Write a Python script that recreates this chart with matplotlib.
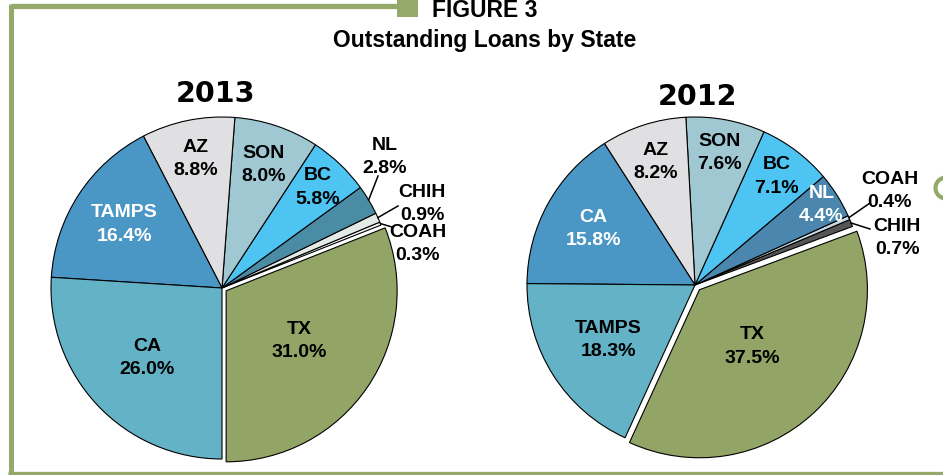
import numpy as np
import matplotlib
matplotlib.use('Agg')
import matplotlib.pyplot as plt
from matplotlib.patches import Circle

W, H = 943, 475

# shares of outstanding loans, listed counter-clockwise starting at TX
states_2013 = ['TX', 'COAH', 'CHIH', 'NL', 'BC', 'SON', 'AZ', 'TAMPS', 'CA']
share_2013 = [31.0, 0.3, 0.9, 2.8, 5.8, 8.0, 8.8, 16.4, 26.0]

states_2012 = ['TX', 'CHIH', 'COAH', 'NL', 'BC', 'SON', 'AZ', 'CA', 'TAMPS']
share_2012 = [37.5, 0.7, 0.4, 4.4, 7.1, 7.6, 8.2, 15.8, 18.3]

colors_2013 = ['#93A566', '#F6F7F6', '#E4EBE6', '#4B8CA5', '#4DC4F2',
               '#A0C8D2', '#E0E0E2', '#4A96C4', '#63B2C6']
colors_2012 = ['#93A566', '#555555', '#C8DCE8', '#4A86AE', '#4DC4F2',
               '#A0C8D2', '#E0E0E2', '#4A96C4', '#63B2C6']

GREEN = '#95A96A'
FONT = 'Liberation Sans'
LSIZE = 14

fig = plt.figure(figsize=(W / 100, H / 100), dpi=100)
ax = fig.add_axes([0, 0, 1, 1])


def yy(y):
    # image row -> data y
    return H - y


def draw_pie(states, shares, colors, center, radius, start, explode_tx,
             inside, outside):
    cx, cy = center
    # explode is in data units (pixels here)
    explode = [explode_tx] + [0] * (len(shares) - 1)
    wedges, _ = ax.pie(shares, colors=colors, startangle=start, counterclock=True,
                       explode=explode, radius=radius, center=(cx, yy(cy)),
                       wedgeprops=dict(edgecolor='black', linewidth=0.8))
    for w, st, val in zip(wedges, states, shares):
        mid = np.deg2rad((w.theta1 + w.theta2) / 2)
        wx, wy = w.center
        txt = '%s\n%.1f%%' % (st, val)
        if st in inside:
            frac, col = inside[st]
            ax.text(wx + frac * radius * np.cos(mid), wy + frac * radius * np.sin(mid),
                    txt, ha='center', va='center', color=col, fontsize=LSIZE,
                    fontweight='bold', family=FONT, linespacing=1.5)
        else:
            tx, ty, lx, ly = outside[st]
            ex = wx + radius * np.cos(mid)
            ey = wy + radius * np.sin(mid)
            ax.plot([ex, lx], [ey, yy(ly)], color='black', lw=1.1)
            ax.text(tx, yy(ty), txt, ha='center', va='center', color='black',
                    fontsize=LSIZE, fontweight='bold', family=FONT, linespacing=1.4)


draw_pie(states_2013, share_2013, colors_2013, (222, 288), 171, 270, 5,
         {'TX': (0.52, 'black'), 'CA': (0.6, 'black'), 'TAMPS': (0.68, 'white'),
          'AZ': (0.77, 'black'), 'SON': (0.76, 'black'), 'BC': (0.81, 'black')},
         {'NL': (385, 157, 378, 176), 'CHIH': (422, 204, 398, 206),
          'COAH': (418, 244, 392, 227)})

draw_pie(states_2012, share_2012, colors_2012, (695, 285), 168, 245.4, 6.5,
         {'TX': (0.46, 'black'), 'TAMPS': (0.61, 'black'), 'CA': (0.69, 'white'),
          'AZ': (0.77, 'black'), 'SON': (0.80, 'black'), 'BC': (0.81, 'black'),
          'NL': (0.89, 'white')},
         {'COAH': (890, 191, 870, 203), 'CHIH': (897, 238, 870, 229)})

# year headings
ax.text(215, yy(102), '2013', ha='center', va='baseline', fontsize=20.5,
        fontweight='bold', family='DejaVu Sans')
ax.text(698, yy(105), '2012', ha='center', va='baseline', fontsize=20.5,
        fontweight='bold', family='DejaVu Sans')

# frame and titles
ax.plot([10.5, 397], [yy(6), yy(6)], color=GREEN, lw=3.8, solid_capstyle='butt')
ax.plot([10.5, 10.5], [yy(4), yy(480)], color=GREEN, lw=3.6, solid_capstyle='butt')
ax.plot([8, W + 5], [yy(473.5), yy(473.5)], color=GREEN, lw=3.8, solid_capstyle='butt')
ax.fill([397, 418, 418, 397], [yy(0), yy(0), yy(17), yy(17)], color=GREEN, lw=0)
ax.add_patch(Circle((946, yy(188)), 10.5, facecolor='none', edgecolor=GREEN, lw=3))
ax.text(432, yy(17), 'FIGURE 3', ha='left', va='baseline', fontsize=16.5,
        fontweight='bold', family=FONT)
ax.text(485, yy(47), 'Outstanding Loans by State', ha='center', va='baseline',
        fontsize=16.5, fontweight='bold', family=FONT)

ax.set_xlim(0, W)
ax.set_ylim(0, H)
ax.set_aspect('auto')
ax.axis('off')

fig.savefig('out.png', dpi=100)
